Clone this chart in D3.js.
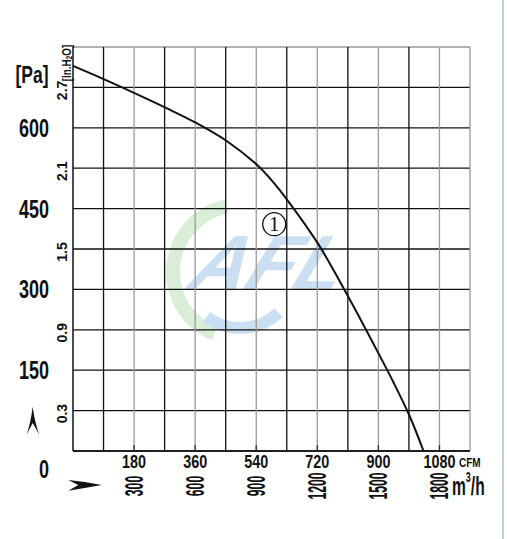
<!DOCTYPE html>
<html>
<head>
<meta charset="utf-8">
<script src="https://d3js.org/d3.v7.min.js"></script>
<style>
  body { margin: 0; background: #fff; }
  text { font-family: "Liberation Sans", Arial, sans-serif; font-weight: bold; fill: #111; }
</style>
</head>
<body>
<div id="chart"></div>
<script>
// fan curve values
var cfmTicks = [180, 360, 540, 720, 900, 1080];
var m3hTicks = [300, 600, 900, 1200, 1500, 1800];
var paTicks = [150, 300, 450, 600];
var inTicks = [0.3, 0.9, 1.5, 2.1, 2.7];
var curveFlow = [0, 92, 183, 274, 363, 454, 546, 590, 634, 723, 808, 862, 903, 944, 992, 1033];
var curvePa = [715, 690, 664, 637, 609, 575, 529, 499, 464, 384, 290, 227, 178, 128, 65, 0];
var curveName = "1";
var labelFlow = 593, labelPa = 421;

(function(){
  var width = 507, height = 539;
  var svg = d3.select("#chart").append("svg")
    .attr("width", width).attr("height", height);

  var x = d3.scaleLinear().domain([0, 1170]).range([73, 470]);
  var xM = d3.scaleLinear().domain([0, 1950]).range([73, 470]);
  var y = d3.scaleLinear().domain([0, 750]).range([451, 47]);
  var yIn = d3.scaleLinear().domain([0, 3]).range([451, 47]);

  // faint logo watermark
  var wm = svg.append("g").attr("transform", "translate(240,272)");
  wm.append("path")
    .attr("d", d3.arc().innerRadius(60).outerRadius(74).startAngle(-2.75).endAngle(-0.2)())
    .attr("fill", "#d9edd7");
  wm.append("path")
    .attr("d", d3.arc().innerRadius(50).outerRadius(62).startAngle(-3.9).endAngle(-2.5)())
    .attr("fill", "#cadff1");
  wm.append("text")
    .attr("x", -48).attr("y", 18)
    .attr("transform", "skewX(-22)")
    .style("font-size", "78px").style("font-style", "italic")
    .style("fill", "#cadff1")
    .text("AFL");

  // grid: horizontal every 75 Pa
  var hVals = d3.range(0, 751, 75);
  svg.selectAll(".h").data(hVals).enter().append("line")
    .attr("x1", x(0)).attr("x2", x(1170))
    .attr("y1", function(d){ return y(d); }).attr("y2", function(d){ return y(d); })
    .attr("stroke", function(d){ return d === 750 ? "#999" : "#111"; })
    .attr("stroke-width", 1.3);

  // grid: vertical every 90 CFM
  var vVals = d3.range(90, 1171, 90);
  svg.selectAll(".v").data(vVals).enter().append("line")
    .attr("x1", function(d){ return x(d); }).attr("x2", function(d){ return x(d); })
    .attr("y1", y(0)).attr("y2", y(750))
    .attr("stroke", function(d){ return (d / 90) % 2 === 0 || d === 1170 ? "#999" : "#111"; })
    .attr("stroke-width", 1.3);

  // small dark ticks at bottom of the labelled lines
  svg.selectAll(".tk").data(cfmTicks).enter().append("line")
    .attr("x1", function(d){ return x(d); }).attr("x2", function(d){ return x(d); })
    .attr("y1", y(0)).attr("y2", y(0) - 6)
    .attr("stroke", "#333").attr("stroke-width", 1.3);

  // axes lines
  svg.append("line").attr("x1", x(0)).attr("x2", x(0)).attr("y1", y(0)).attr("y2", y(750))
    .attr("stroke", "#111").attr("stroke-width", 1.5);
  svg.append("line").attr("x1", x(0)).attr("x2", x(1170)).attr("y1", y(0)).attr("y2", y(0))
    .attr("stroke", "#111").attr("stroke-width", 1.5);

  // curve
  var pts = curveFlow.map(function(f, i){ return [f, curvePa[i]]; });
  var line = d3.line()
    .x(function(d){ return x(d[0]); })
    .y(function(d){ return y(d[1]); })
    .curve(d3.curveCatmullRom.alpha(0.5));
  svg.append("path").datum(pts)
    .attr("d", line).attr("fill", "none")
    .attr("stroke", "#111").attr("stroke-width", 2);

  // circled curve number
  svg.append("circle").attr("cx", x(labelFlow)).attr("cy", y(labelPa)).attr("r", 11.5)
    .attr("fill", "none").attr("stroke", "#111").attr("stroke-width", 1.3);
  svg.append("text").attr("x", x(labelFlow)).attr("y", y(labelPa) + 7)
    .attr("text-anchor", "middle")
    .style("font-family", "'Liberation Serif', serif").style("font-weight", "normal")
    .style("font-size", "21px").text(curveName);

  // Pa labels
  svg.append("text").attr("transform", "translate(32,83) scale(0.73,1)")
    .attr("text-anchor", "middle").style("font-size", "24px").text("[Pa]");
  svg.selectAll(".pa").data(paTicks).enter().append("text")
    .attr("transform", function(d){ return "translate(34," + (y(d) + 9) + ") scale(0.72,1)"; })
    .attr("text-anchor", "middle").style("font-size", "25px")
    .text(function(d){ return d; });
  svg.append("text")
    .attr("transform", "translate(44," + (y(0) + 27) + ") scale(0.72,1)")
    .attr("text-anchor", "middle").style("font-size", "25px").text("0");

  // in.H2O labels (rotated)
  svg.selectAll(".in").data(inTicks).enter().append("text")
    .attr("transform", function(d){ return "translate(62," + (yIn(d) + 3) + ") rotate(-90)"; })
    .attr("text-anchor", "middle").attr("dominant-baseline", "central")
    .style("font-size", "14px")
    .text(function(d){ return d; });
  var unitIn = svg.append("text")
    .attr("transform", "translate(67,63) rotate(-90) scale(0.78,1)")
    .attr("text-anchor", "middle").attr("dominant-baseline", "central")
    .style("font-size", "12.5px");
  unitIn.append("tspan").text("[In.H");
  unitIn.append("tspan").style("font-size", "9px").attr("dy", 2).text("2");
  unitIn.append("tspan").attr("dy", -2).text("O]");

  // CFM labels
  svg.selectAll(".cfm").data(cfmTicks).enter().append("text")
    .attr("transform", function(d){ return "translate(" + x(d) + ",468) scale(0.8,1)"; })
    .attr("text-anchor", "middle").style("font-size", "18px")
    .text(function(d){ return d; });
  svg.append("text").attr("transform", "translate(459,467) scale(0.8,1)")
    .style("font-size", "12.5px").text("CFM");

  // m3/h labels (rotated, squeezed)
  svg.selectAll(".m3h").data(m3hTicks).enter().append("text")
    .attr("transform", function(d){ return "translate(" + xM(d) + ",486) rotate(-90) scale(0.47,1)"; })
    .attr("text-anchor", "middle").attr("dominant-baseline", "central")
    .style("font-size", "26px")
    .text(function(d){ return d; });
  var unitM = svg.append("text").attr("transform", "translate(452,495) scale(0.6,1)")
    .style("font-size", "26px");
  unitM.append("tspan").text("m");
  unitM.append("tspan").style("font-size", "15px").attr("dy", -13).text("3");
  unitM.append("tspan").attr("dy", 13).text("/h");

  // arrows
  svg.append("path")
    .attr("d", "M32.7,406.7 Q35,424 39.5,435 Q35,427 32.7,423 Q30.5,427 26.5,435 Q30.5,424 32.7,406.7 Z")
    .attr("fill", "#111");
  svg.append("path")
    .attr("d", "M101.7,485 Q85,481.5 68.3,480 Q74,483 78.3,485 Q74,487.5 68.3,490.7 Q85,488 101.7,485 Z")
    .attr("fill", "#111");

  // right border of picture
  svg.append("line").attr("x1", 503).attr("x2", 503).attr("y1", 0).attr("y2", height)
    .attr("stroke", "#a9c1d1").attr("stroke-width", 1.5);
})();
</script>
</body>
</html>
